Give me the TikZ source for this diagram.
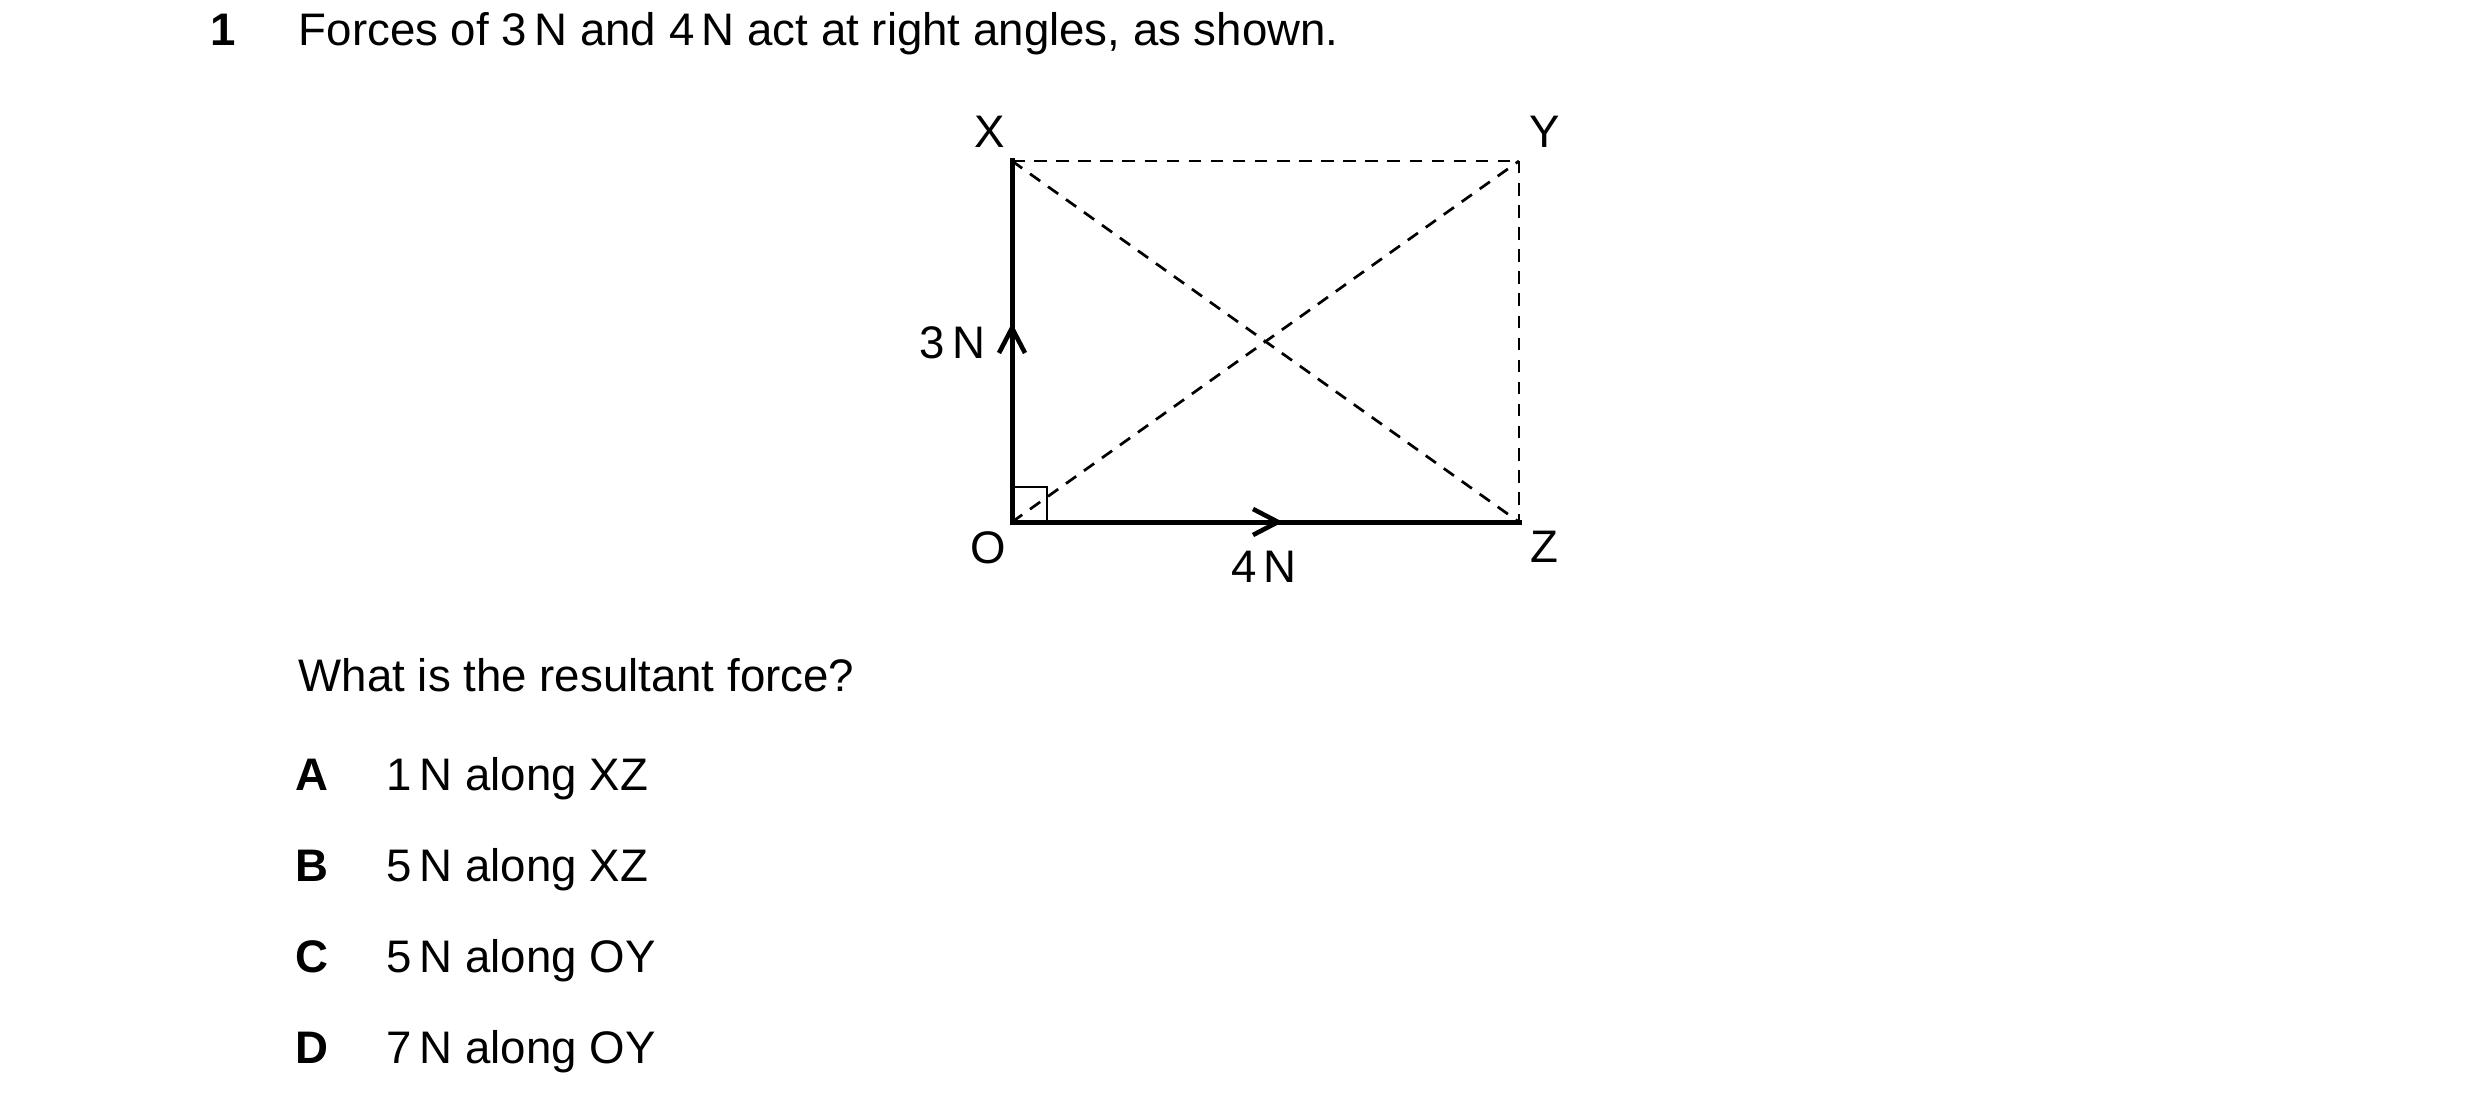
\documentclass[tikz,border=0pt]{standalone}
\usepackage{fontspec}
\setmainfont{Liberation Sans}
\begin{document}
\begin{tikzpicture}[x=0.24pt,y=-0.24pt,
  txt/.style={inner sep=0pt,anchor=base west,font=\fontsize{10.95pt}{13pt}\selectfont},
  lbl/.style={inner sep=0pt,anchor=base,font=\fontsize{10.95pt}{13pt}\selectfont},
  force/.style={line width=1.2pt,line cap=rect},
  dsh/.style={line width=0.65pt,dash pattern=on 3pt off 2.3pt},
  chev/.style={line width=1.1pt}]
\useasboundingbox (0,0) rectangle (2480,1110);
\fill[white] (0,0) rectangle (2480,1110);
% question
\node[txt,font=\fontsize{10.95pt}{13pt}\selectfont\bfseries] (qn) at (210,46) {1};
\node[txt] (qt) at (298,46) {Forces of 3\,N and 4\,N act at right angles, as shown.};
% diagram corners
\coordinate (O) at (1012,522);
\coordinate (X) at (1012,161);
\coordinate (Y) at (1519,161);
\coordinate (Z) at (1519,522);
% dashed lines
\draw[dsh] (X) -- (Y);
\draw[dsh] (Y) -- (Z);
\draw[dsh] (X) -- (Z);
\draw[dsh] (O) -- (Y);
% right-angle box
\draw[line width=0.55pt] (1012,487) -- (1047,487) -- (1047,522);
% forces
\draw[force] (O) -- (X);
\draw[force] (O) -- (Z);
% chevrons
\coordinate (t3) at (1012,328);
\coordinate (t4) at (1278,522);
\draw[chev] (999,353) -- (t3) -- (1025,353);
\draw[chev] (1253,509) -- (t4) -- (1253,535);
% labels
\node[lbl] (lX) at (990,148) {X};
\node[lbl] (lY) at (1545,148) {Y};
\node[lbl] (lO) at (988,563) {O};
\node[lbl] (lZ) at (1544,562) {Z};
\node[inner sep=0pt,anchor=base east,font=\fontsize{10.95pt}{13pt}\selectfont] (l3) at (986,358) {3\,N};
\node[lbl] (l4) at (1264,582) {4\,N};
% question text
\node[txt] (wh) at (298,691) {What is the resultant force?};
\foreach \L/\T/\yy in {A/{1\,N along XZ}/790, B/{5\,N along XZ}/881, C/{5\,N along OY}/972, D/{7\,N along OY}/1063}{
  \node[txt,font=\fontsize{10.95pt}{13pt}\selectfont\bfseries] (opt\L) at (295,\yy) {\L};
  \node[txt] (ans\L) at (386,\yy) {\T};
}
\end{tikzpicture}
\end{document}
